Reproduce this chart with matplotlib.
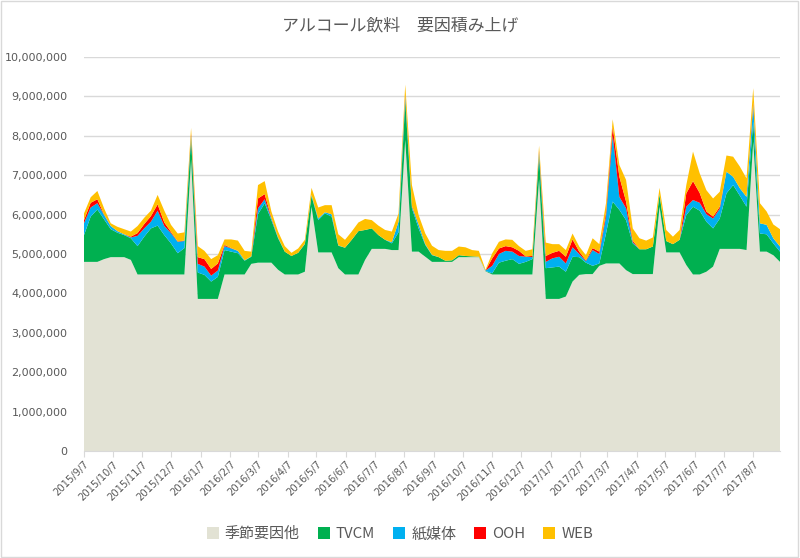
import matplotlib
matplotlib.use("Agg")
import matplotlib.pyplot as plt
import matplotlib.dates as mdates
import numpy as np
import pandas as pd
from datetime import datetime
from matplotlib.patches import Rectangle
from matplotlib.ticker import FuncFormatter

plt.rcParams['font.family'] = ['DejaVu Sans', 'Noto Sans CJK JP']

title = "アルコール飲料　要因積み上げ"
series_names = ["季節要因他", "TVCM", "紙媒体", "OOH", "WEB"]
colors = ["#E2E2D4", "#00B050", "#00B0F0", "#FF0000", "#FFC000"]

start_date = "2015-09-07"
n_weeks = 105

# values in millions of yen
seasonal = [4.80, 4.80, 4.80, 4.87, 4.92, 4.92, 4.92, 4.85, 4.48, 4.48,
            4.48, 4.48, 4.48, 4.48, 4.48, 4.48, 7.40, 3.86, 3.86, 3.86,
            3.86, 4.48, 4.48, 4.48, 4.48, 4.75, 4.78, 4.78, 4.78, 4.60,
            4.48, 4.48, 4.48, 4.55, 6.20, 5.04, 5.04, 5.04, 4.64, 4.48,
            4.48, 4.48, 4.85, 5.13, 5.13, 5.13, 5.10, 5.10, 7.90, 5.06,
            5.06, 4.93, 4.80, 4.80, 4.80, 4.80, 4.92, 4.92, 4.92, 4.92,
            4.56, 4.48, 4.48, 4.48, 4.48, 4.48, 4.48, 4.48, 6.90, 3.86,
            3.86, 3.86, 3.92, 4.30, 4.47, 4.49, 4.49, 4.70, 4.76, 4.76,
            4.76, 4.59, 4.49, 4.49, 4.49, 4.49, 6.20, 5.04, 5.04, 5.04,
            4.72, 4.48, 4.48, 4.55, 4.68, 5.13, 5.13, 5.13, 5.13, 5.10,
            7.85, 5.06, 5.06, 4.97, 4.80]
tvcm = [0.68, 1.15, 1.33, 1.01, 0.71, 0.62, 0.56, 0.55, 0.72, 0.96,
        1.17, 1.24, 1.00, 0.79, 0.54, 0.67, 0.55, 0.67, 0.61, 0.44,
        0.56, 0.62, 0.58, 0.54, 0.35, 0.18, 1.23, 1.51, 1.08, 0.80,
        0.58, 0.47, 0.55, 0.70, 0.27, 0.82, 0.99, 0.91, 0.57, 0.68,
        0.88, 1.10, 0.76, 0.52, 0.35, 0.23, 0.17, 0.45, 1.00, 1.10,
        0.59, 0.30, 0.17, 0.12, 0.03, 0.04, 0.05, 0.03, 0.02, 0.01,
        0.01, 0.03, 0.30, 0.35, 0.39, 0.27, 0.32, 0.39, 0.60, 0.78,
        0.80, 0.82, 0.63, 0.63, 0.45, 0.29, 0.21, 0.06, 0.76, 1.57,
        1.36, 1.27, 0.78, 0.63, 0.63, 0.70, 0.30, 0.29, 0.21, 0.32,
        1.27, 1.72, 1.62, 1.27, 0.97, 0.77, 1.41, 1.62, 1.35, 1.10,
        0.51, 0.46, 0.44, 0.30, 0.26]
paper = [0.30, 0.23, 0.16, 0.11, 0.08, 0.04, 0.02, 0.02, 0.26, 0.21,
         0.17, 0.38, 0.23, 0.26, 0.29, 0.18, 0.05, 0.22, 0.21, 0.15,
         0.16, 0.10, 0.08, 0.06, 0.01, 0.01, 0.15, 0.10, 0.04, 0.02,
         0.00, 0.00, 0.00, 0.01, 0.03, 0.04, 0.03, 0.06, 0.01, 0.00,
         0.00, 0.00, 0.00, 0.00, 0.00, 0.00, 0.03, 0.27, 0.10, 0.04,
         0.10, 0.02, 0.01, 0.00, 0.00, 0.00, 0.00, 0.00, 0.00, 0.00,
         0.01, 0.19, 0.22, 0.25, 0.19, 0.20, 0.13, 0.05, 0.08, 0.16,
         0.23, 0.25, 0.21, 0.24, 0.08, 0.04, 0.40, 0.24, 0.43, 1.69,
         0.33, 0.30, 0.03, 0.00, 0.00, 0.00, 0.02, 0.00, 0.00, 0.00,
         0.21, 0.17, 0.20, 0.19, 0.25, 0.25, 0.55, 0.21, 0.19, 0.25,
         0.42, 0.26, 0.24, 0.13, 0.13]
ooh = [0.08, 0.12, 0.10, 0.01, 0.00, 0.00, 0.00, 0.02, 0.07, 0.11,
       0.14, 0.16, 0.09, 0.03, 0.01, 0.01, 0.05, 0.17, 0.19, 0.17,
       0.18, 0.03, 0.01, 0.00, 0.00, 0.00, 0.25, 0.13, 0.02, 0.00,
       0.00, 0.00, 0.00, 0.00, 0.00, 0.00, 0.00, 0.00, 0.00, 0.00,
       0.00, 0.00, 0.00, 0.00, 0.00, 0.00, 0.00, 0.00, 0.05, 0.02,
       0.00, 0.00, 0.00, 0.00, 0.00, 0.00, 0.00, 0.00, 0.00, 0.00,
       0.00, 0.19, 0.14, 0.12, 0.11, 0.13, 0.01, 0.03, 0.04, 0.15,
       0.14, 0.15, 0.17, 0.20, 0.06, 0.02, 0.05, 0.06, 0.10, 0.21,
       0.51, 0.17, 0.04, 0.00, 0.00, 0.00, 0.00, 0.00, 0.00, 0.00,
       0.34, 0.48, 0.25, 0.07, 0.05, 0.05, 0.00, 0.00, 0.00, 0.00,
       0.07, 0.00, 0.00, 0.00, 0.00]
web = [0.17, 0.14, 0.21, 0.16, 0.07, 0.11, 0.13, 0.13, 0.18, 0.16,
       0.14, 0.24, 0.30, 0.18, 0.20, 0.21, 0.15, 0.28, 0.21, 0.25,
       0.21, 0.14, 0.22, 0.26, 0.24, 0.12, 0.34, 0.33, 0.16, 0.15,
       0.14, 0.08, 0.11, 0.10, 0.18, 0.28, 0.18, 0.23, 0.28, 0.20,
       0.21, 0.22, 0.28, 0.21, 0.24, 0.25, 0.27, 0.21, 0.25, 0.53,
       0.24, 0.27, 0.23, 0.18, 0.25, 0.24, 0.22, 0.22, 0.16, 0.15,
       0.02, 0.13, 0.17, 0.17, 0.19, 0.12, 0.14, 0.17, 0.13, 0.34,
       0.22, 0.17, 0.17, 0.15, 0.13, 0.13, 0.25, 0.19, 0.24, 0.19,
       0.30, 0.55, 0.31, 0.28, 0.22, 0.23, 0.16, 0.28, 0.19, 0.25,
       0.21, 0.75, 0.50, 0.54, 0.46, 0.38, 0.41, 0.51, 0.55, 0.47,
       0.36, 0.51, 0.34, 0.35, 0.44]

tick_labels = ["2015/9/7", "2015/10/7", "2015/11/7", "2015/12/7", "2016/1/7",
               "2016/2/7", "2016/3/7", "2016/4/7", "2016/5/7", "2016/6/7",
               "2016/7/7", "2016/8/7", "2016/9/7", "2016/10/7", "2016/11/7",
               "2016/12/7", "2017/1/7", "2017/2/7", "2017/3/7", "2017/4/7",
               "2017/5/7", "2017/6/7", "2017/7/7", "2017/8/7"]

dates = pd.date_range(start_date, periods=n_weeks, freq="7D")
unit = 1_000_000
ys = [np.array(s) * unit for s in (seasonal, tvcm, paper, ooh, web)]

fig = plt.figure(figsize=(8.0, 5.58), dpi=100)
fig.patches.append(Rectangle((0.001, 0.001), 0.997, 0.997, transform=fig.transFigure,
                             fill=False, edgecolor="#D9D9D9", linewidth=1.0))
ax = fig.add_axes([0.105, 0.1918, 0.870, 0.706])

ax.stackplot(dates, *ys, colors=colors, labels=series_names, linewidth=0)

ax.set_ylim(0, 10_000_000)
ax.set_yticks(np.arange(0, 10_000_001, 1_000_000))
ax.yaxis.set_major_formatter(FuncFormatter(lambda v, p: f"{int(v):,}"))
ax.set_xlim(dates[0], dates[-1])

tick_dates = [datetime.strptime(t, "%Y/%m/%d") for t in tick_labels]
ax.set_xticks(mdates.date2num(tick_dates))
ax.set_xticklabels(tick_labels, rotation=45, ha="right", rotation_mode="anchor",
                   fontsize=7.2, color="#595959")

ax.grid(axis="y", color="#D9D9D9", linewidth=1.0)
ax.set_axisbelow(True)
for s in ["top", "right", "left"]:
    ax.spines[s].set_visible(False)
ax.spines["bottom"].set_color("#D9D9D9")
ax.tick_params(axis="y", length=0, labelsize=8, labelcolor="#595959", pad=12)
ax.tick_params(axis="x", length=4, color="#D9D9D9", pad=2)

fig.text(0.5, 0.955, title, ha="center", va="center", fontsize=12.2, color="#595959",
         family=["Noto Sans CJK JP", "DejaVu Sans"])

handles, labels = ax.get_legend_handles_labels()
leg = fig.legend(handles, labels, loc="center", bbox_to_anchor=(0.5, 0.043), ncol=5,
                 frameon=False, handlelength=0.8, handleheight=0.8, handletextpad=0.4,
                 columnspacing=1.2, prop={"family": ["Noto Sans CJK JP", "DejaVu Sans"], "size": 10.8})
for t in leg.get_texts():
    t.set_color("#595959")

fig.savefig("out.png", dpi=100)
